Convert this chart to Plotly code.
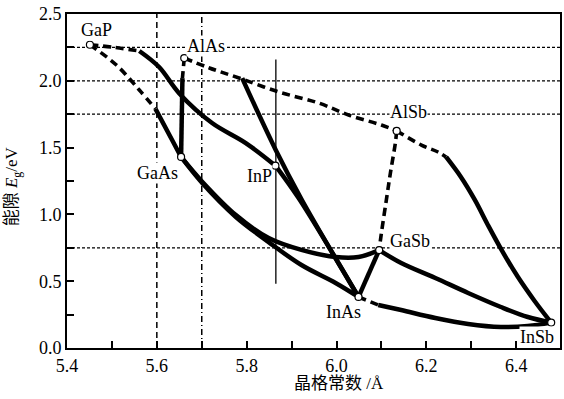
import plotly.graph_objects as go

# ---------------- data (lattice constant a / Å, band gap Eg / eV) ----------------
materials = ["GaP", "AlAs", "GaAs", "InP", "AlSb", "GaSb", "InAs", "InSb"]
mat_a = [5.451, 5.661, 5.654, 5.864, 6.134, 6.095, 6.049, 6.478]
mat_Eg = [2.27, 2.17, 1.43, 1.365, 1.625, 0.733, 0.382, 0.19]

# GaAsP (GaP -> GaAs)
gaasp_ind_a = [5.451, 5.510, 5.561, 5.597]
gaasp_ind_E = [2.27, 2.118, 1.931, 1.79]
gaasp_dir_a = [5.597, 5.634, 5.654]
gaasp_dir_E = [1.79, 1.557, 1.43]
# GaInP (GaP -> InP)
gainp_ind_a = [5.451, 5.505, 5.561]
gainp_ind_E = [2.27, 2.25, 2.223]
gainp_dir_a = [5.561, 5.605, 5.650, 5.723, 5.798, 5.864]
gainp_dir_E = [2.223, 2.103, 1.905, 1.684, 1.534, 1.365]
# AlGaAs (AlAs -> GaAs)
algaas_ind_a = [5.661, 5.657]
algaas_ind_E = [2.17, 2.02]
algaas_dir_a = [5.657, 5.654]
algaas_dir_E = [2.02, 1.43]
# AlAsSb (AlAs -> AlSb)
alassb_a = [5.661, 5.717, 5.783, 5.872, 5.960, 6.027, 6.100, 6.134]
alassb_E = [2.17, 2.096, 2.021, 1.916, 1.834, 1.744, 1.669, 1.625]
# AlInAs (AlAs -> InAs)
alinas_ind_a = [5.661, 5.717, 5.790]
alinas_ind_E = [2.17, 2.096, 2.02]
alinas_dir_a = [5.790, 5.865, 5.923, 6.049]
alinas_dir_E = [2.02, 1.48, 1.108, 0.382]
# AlInSb (AlSb -> InSb)
alinsb_ind_a = [6.134, 6.189, 6.226, 6.244]
alinsb_ind_E = [1.625, 1.519, 1.467, 1.43]
alinsb_dir_a = [6.244, 6.277, 6.308, 6.337, 6.370, 6.404, 6.441, 6.478]
alinsb_dir_E = [1.43, 1.28, 1.108, 0.921, 0.719, 0.531, 0.352, 0.19]
# AlGaSb (AlSb -> GaSb)
algasb_a = [6.134, 6.131, 6.120, 6.111, 6.100, 6.095]
algasb_E = [1.625, 1.534, 1.310, 1.108, 0.861, 0.733]
# InGaAs (GaAs -> InAs)
ingaas_a = [5.654, 5.701, 5.776, 5.849, 5.922, 5.998, 6.049]
ingaas_E = [1.43, 1.235, 0.981, 0.793, 0.621, 0.487, 0.382]
# GaAsSb (GaAs -> GaSb)
gaassb_a = [5.654, 5.701, 5.776, 5.849, 5.922, 5.998, 6.049, 6.095]
gaassb_E = [1.43, 1.245, 0.995, 0.823, 0.734, 0.681, 0.681, 0.733]
# InAsP (InP -> InAs)
inasp_a = [5.864, 5.916, 6.049]
inasp_E = [1.365, 1.12, 0.382]
# InAs - GaSb
inasgasb_a = [6.049, 6.095]
inasgasb_E = [0.382, 0.733]
# GaInSb (GaSb -> InSb)
gainsb_a = [6.095, 6.144, 6.220, 6.293, 6.366, 6.426, 6.478]
gainsb_E = [0.733, 0.636, 0.524, 0.412, 0.307, 0.232, 0.19]
# InAsSb (InAs -> InSb)
inassb_ind_a = [6.049, 6.093]
inassb_ind_E = [0.382, 0.322]
inassb_dir_a = [6.093, 6.144, 6.220, 6.293, 6.366, 6.426, 6.478]
inassb_dir_E = [0.322, 0.284, 0.225, 0.180, 0.157, 0.165, 0.19]

# reference lines
ref_E = [2.25, 2.0, 1.75, 0.75]
ref_a = [5.6, 5.7]
inp_line_a = 5.865
inp_line_E = [0.48, 2.16]

x_title = "晶格常数 /Å"
y_title = "能隙 <i>E</i><sub>g</sub>/eV"

# ---------------- figure ----------------
SOLID = dict(color="black", width=4.5)
DASHED = dict(color="black", width=3.6, dash="8px,5px")

segments = [
    (gaasp_ind_a, gaasp_ind_E, DASHED, "spline"),
    (gaasp_dir_a, gaasp_dir_E, SOLID, "spline"),
    (gainp_ind_a, gainp_ind_E, DASHED, "spline"),
    (gainp_dir_a, gainp_dir_E, SOLID, "spline"),
    (algaas_ind_a, algaas_ind_E, DASHED, "linear"),
    (algaas_dir_a, algaas_dir_E, SOLID, "linear"),
    (alassb_a, alassb_E, DASHED, "spline"),
    (alinas_dir_a, alinas_dir_E, SOLID, "spline"),
    (alinsb_ind_a, alinsb_ind_E, DASHED, "spline"),
    (alinsb_dir_a, alinsb_dir_E, SOLID, "spline"),
    (algasb_a, algasb_E, DASHED, "spline"),
    (ingaas_a, ingaas_E, SOLID, "spline"),
    (gaassb_a, gaassb_E, SOLID, "spline"),
    (inasp_a, inasp_E, SOLID, "spline"),
    (inasgasb_a, inasgasb_E, SOLID, "linear"),
    (gainsb_a, gainsb_E, SOLID, "spline"),
    (inassb_ind_a, inassb_ind_E, DASHED, "linear"),
    (inassb_dir_a, inassb_dir_E, SOLID, "spline"),
]

fig = go.Figure()
for xs, ys, ln, shp in segments:
    line = dict(**ln, shape=shp)
    if shp == "spline":
        line["smoothing"] = 1.0
    fig.add_trace(go.Scatter(x=xs, y=ys, mode="lines", line=line,
                             hoverinfo="skip", showlegend=False))

fig.add_trace(go.Scatter(x=mat_a, y=mat_Eg, mode="markers",
                         marker=dict(symbol="circle", size=7, color="white",
                                     line=dict(color="black", width=1.2)),
                         showlegend=False, hoverinfo="skip"))

shapes = []
for e in ref_E:
    shapes.append(dict(type="line", xref="paper", x0=0, x1=1, yref="y", y0=e, y1=e,
                       line=dict(color="black", width=1.2, dash="3px,2px"), layer="below"))
shapes.append(dict(type="line", xref="x", x0=ref_a[0], x1=ref_a[0], yref="paper", y0=0, y1=1,
                   line=dict(color="black", width=1.5, dash="6px,4px"), layer="below"))
shapes.append(dict(type="line", xref="x", x0=ref_a[1], x1=ref_a[1], yref="paper", y0=0, y1=1,
                   line=dict(color="black", width=1.5, dash="6px,3px,1px,3px"), layer="below"))
shapes.append(dict(type="line", xref="x", x0=inp_line_a, x1=inp_line_a, yref="y",
                   y0=inp_line_E[0], y1=inp_line_E[1],
                   line=dict(color="black", width=1.3), layer="below"))

label_shift = {"GaP": (7, 15), "AlAs": (22, 12), "GaAs": (-24, -16), "InP": (-16, -10),
               "AlSb": (12, 19), "GaSb": (31, 9), "InAs": (-15, -15), "InSb": (-14, -14)}
annotations = []
for name, a, e in zip(materials, mat_a, mat_Eg):
    dx, dy = label_shift[name]
    annotations.append(dict(x=a, y=e, xref="x", yref="y", text=name, showarrow=False,
                            xshift=dx, yshift=dy, bgcolor="white", borderpad=0,
                            font=dict(family="Liberation Serif", size=18, color="black")))

annotations.append(dict(x=0.552, y=-0.105, xref="paper", yref="paper", text=x_title,
                        showarrow=False, xanchor="center", yanchor="middle",
                        font=dict(family="Liberation Serif, Noto Sans CJK SC", size=17, color="black")))
annotations.append(dict(x=-0.109, y=0.485, xref="paper", yref="paper", text=y_title,
                        showarrow=False, textangle=-90, xanchor="center", yanchor="middle",
                        font=dict(family="Liberation Serif, Noto Sans CJK SC", size=17, color="black")))

axis_common = dict(showline=True, linecolor="black", linewidth=2, mirror=True,
                   ticks="inside", ticklen=7, tickwidth=1.5, tickcolor="black",
                   showgrid=False, zeroline=False,
                   tickfont=dict(family="Liberation Serif", size=18, color="black"))

fig.update_layout(
    width=564, height=399,
    margin=dict(l=67, r=2, t=14, b=51),
    paper_bgcolor="white", plot_bgcolor="white",
    showlegend=False,
    shapes=shapes, annotations=annotations,
    xaxis=dict(range=[5.4, 6.4976], tick0=5.4, dtick=0.2, tickformat=".1f",
               minor=dict(dtick=0.1, tick0=5.4, ticks="inside", ticklen=7, tickwidth=1.5,
                          tickcolor="black", showgrid=False),
               **axis_common),
    yaxis=dict(range=[0, 2.5], tick0=0, dtick=0.5, tickformat=".1f",
               minor=dict(dtick=0.25, tick0=0, ticks="inside", ticklen=7, tickwidth=1.5,
                          tickcolor="black", showgrid=False),
               **axis_common),
)

fig.write_html("out.html")
